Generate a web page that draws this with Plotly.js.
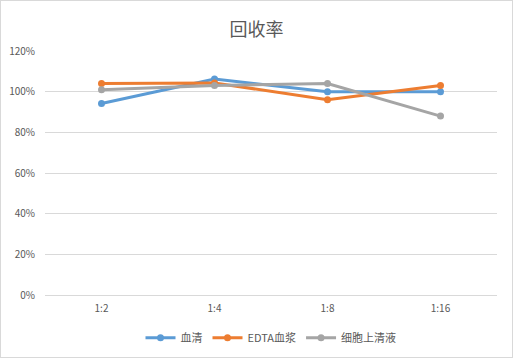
<!DOCTYPE html>
<html><head><meta charset="utf-8">
<script src="https://cdn.plot.ly/plotly-3.0.1.min.js"></script>
<style>html,body{margin:0;padding:0;background:#fff}#c{width:513px;height:358px;box-sizing:border-box;border:1px solid #d9d9d9}</style>
</head><body><div id="c"></div>
<script>
var categories = ['1:2','1:4','1:8','1:16'];
var serum = [0.942, 1.062, 1.000, 1.000];
var edta = [1.040, 1.043, 0.960, 1.030];
var supernatant = [1.010, 1.030, 1.040, 0.880];
var names = ['血清','EDTA血浆','细胞上清液'];
var colors = ['#5b9bd5','#ed7d31','#a5a5a5'];
var series = [serum, edta, supernatant];
var traces = series.map(function(s,i){return {x:categories,y:s,name:names[i],type:'scatter',mode:'lines+markers',
 line:{color:colors[i],width:3},marker:{color:colors[i],size:7}};});
var layout = {
 width:511,height:356,margin:{l:44,r:15,t:50,b:62,autoexpand:false},
 paper_bgcolor:'#fff',plot_bgcolor:'#fff',
 font:{family:'"Noto Sans CJK SC", "DejaVu Sans", sans-serif',size:10,color:'#595959'},
 title:{text:'回收率',x:0.5,xanchor:'center',y:0.918,yanchor:'middle',font:{size:18,color:'#595959',family:'"Noto Sans CJK SC", sans-serif'}},
 xaxis:{type:'category',showgrid:false,showline:true,linecolor:'#d9d9d9',ticks:'outside',ticklen:4,tickcolor:'rgba(0,0,0,0)',tickfont:{size:10,color:'#595959'},range:[-0.5,3.5],automargin:false},
 yaxis:{range:[0,1.2],dtick:0.2,tickformat:'.0%',showgrid:true,gridcolor:'#d9d9d9',zeroline:false,showline:false,ticks:'outside',ticklen:7,tickcolor:'rgba(0,0,0,0)',tickfont:{size:10,color:'#595959'},automargin:false},
 legend:{orientation:'h',x:0.5,xanchor:'center',y:-0.175,yanchor:'middle',font:{size:11,color:'#595959'},itemwidth:30,tracegroupgap:0},
 showlegend:true
};
Plotly.newPlot('c',traces,layout,{displayModeBar:false,staticPlot:true});
</script></body></html>
